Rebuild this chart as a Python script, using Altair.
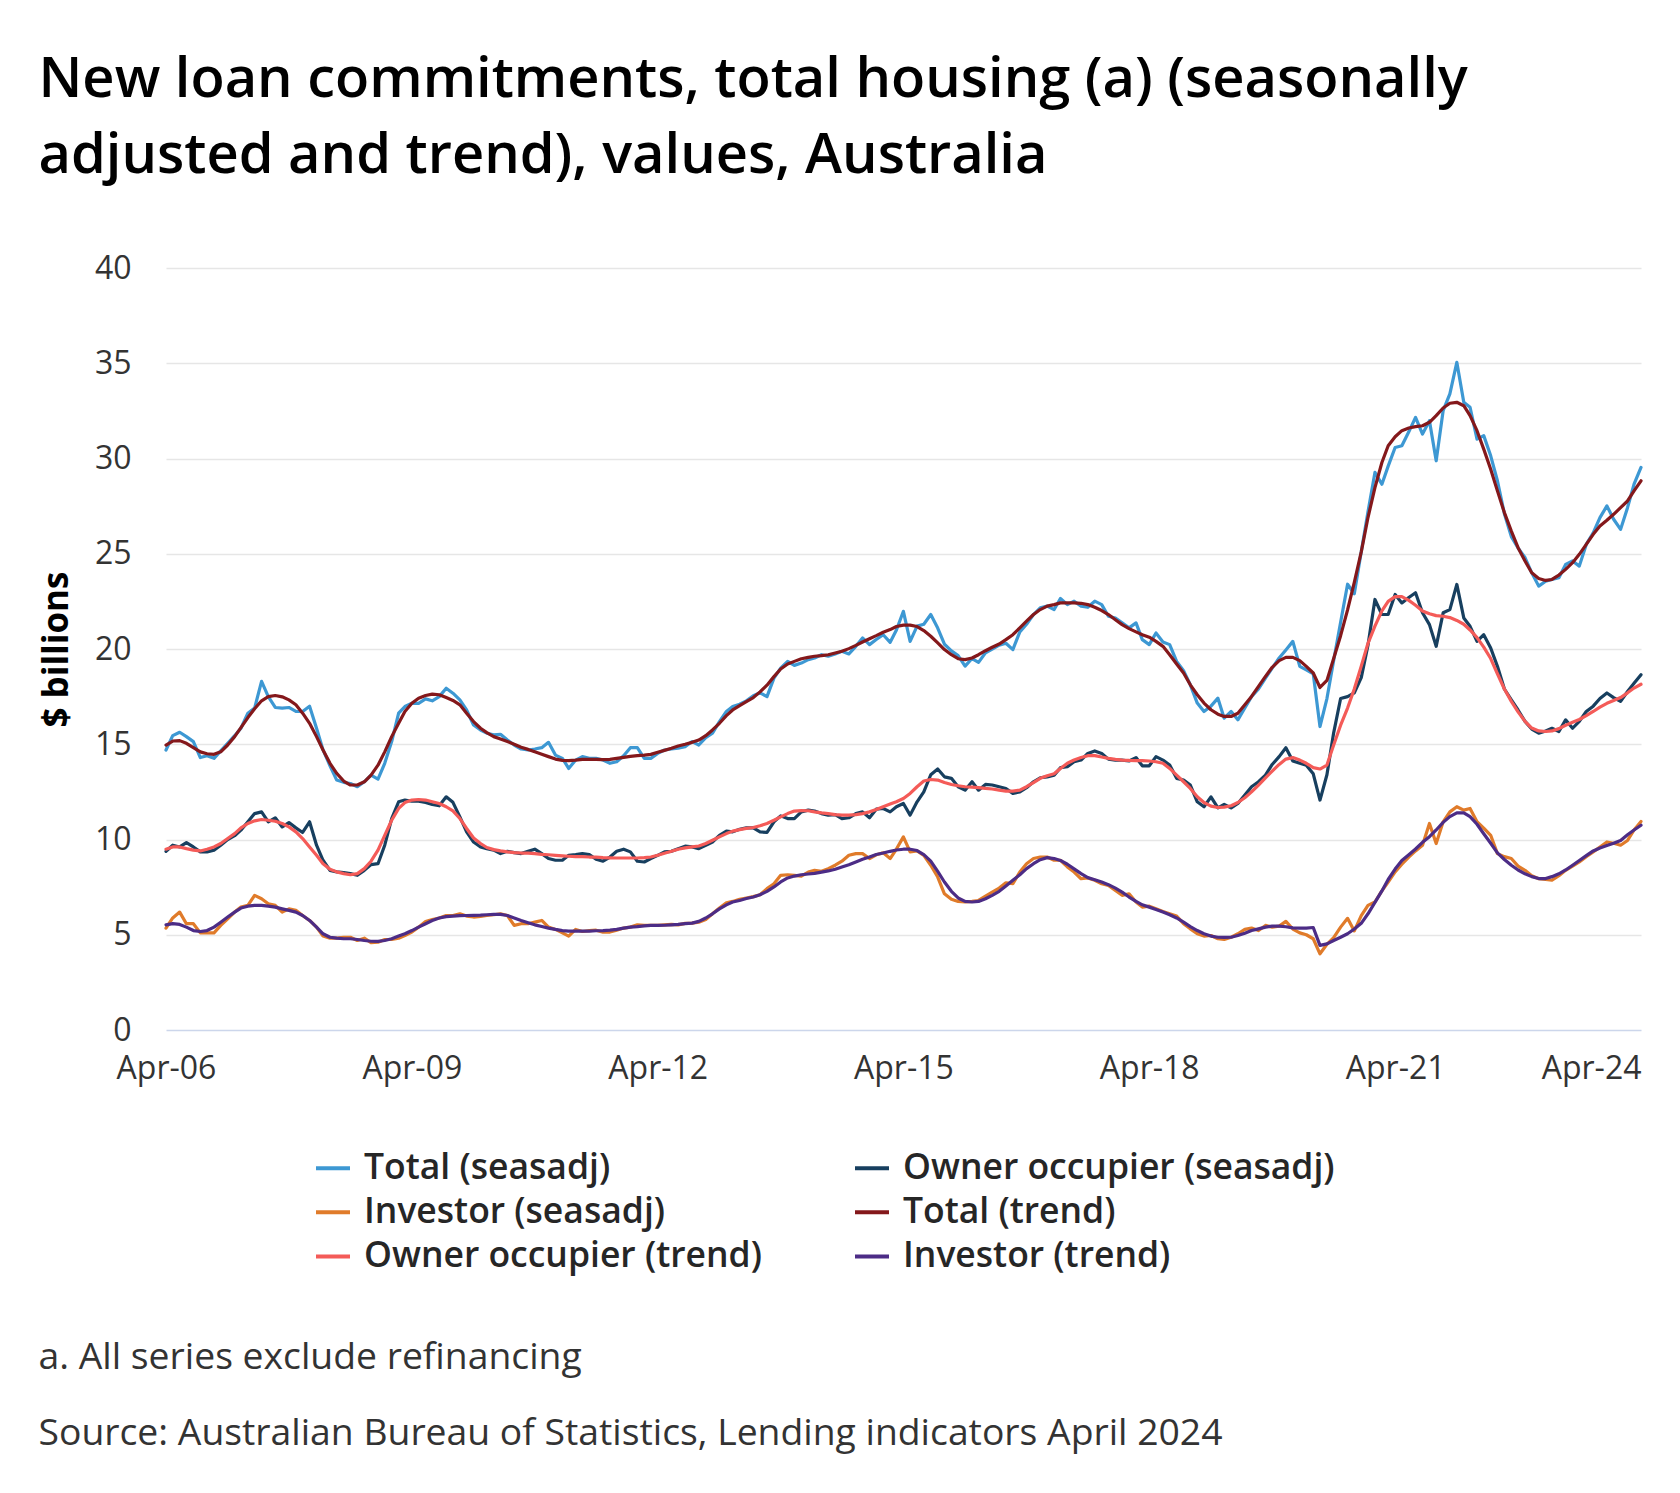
import altair as alt
import pandas as pd

# Monthly observations, April 2006 to April 2024 ($ billions)
MONTHS = pd.date_range("2006-04-01", "2024-04-01", freq="MS")

TOTAL_SEASADJ = [
    14.7, 15.45, 15.63, 15.4, 15.14, 14.3, 14.4, 14.26, 14.65, 15.05, 15.45, 15.84,
    16.63, 16.9, 18.3, 17.5, 16.93, 16.9, 16.93, 16.72, 16.72, 17.0, 15.84, 14.7,
    13.87, 13.12, 13.0, 12.94, 12.77, 13.03, 13.38, 13.17, 14.0, 15.14, 16.63, 16.98,
    17.15, 17.15, 17.38, 17.28, 17.5, 17.94, 17.68, 17.33, 16.8, 16.01, 15.75, 15.58,
    15.49, 15.52, 15.22, 14.96, 14.75, 14.7, 14.75, 14.82, 15.1, 14.43, 14.26, 13.73,
    14.17, 14.35, 14.26, 14.26, 14.17, 14.0, 14.08, 14.4, 14.82, 14.82, 14.26, 14.26,
    14.52, 14.7, 14.75, 14.79, 14.87, 15.14, 14.96, 15.35, 15.58, 16.19, 16.72, 16.98,
    17.1, 17.28, 17.55, 17.7, 17.5, 18.47, 19.0, 19.35, 19.14, 19.26, 19.44, 19.53,
    19.7, 19.62, 19.74, 19.88, 19.74, 20.14, 20.58, 20.23, 20.5, 20.75, 20.35, 21.0,
    21.98, 20.4, 21.2, 21.3, 21.81, 21.1, 20.25, 19.9, 19.65, 19.1, 19.5, 19.3,
    19.8, 20.0, 20.2, 20.3, 19.97, 20.9, 21.3, 21.81, 22.16, 22.25, 22.07, 22.65,
    22.33, 22.51, 22.25, 22.19, 22.51, 22.33, 21.72, 21.63, 21.37, 21.11, 21.37, 20.49,
    20.23, 20.84, 20.37, 20.23, 19.35, 18.86, 18.12, 17.16, 16.72, 17.0, 17.42, 16.37,
    16.72, 16.28, 16.9, 17.5, 17.9, 18.47, 19.0, 19.53, 19.95, 20.4, 19.09, 18.9,
    18.7, 15.93, 17.4, 19.4, 21.4, 23.4, 22.9, 25.1, 27.2, 29.27, 28.65, 29.6,
    30.58, 30.67, 31.4, 32.16, 31.28, 31.98, 29.88, 32.51, 33.39, 35.05, 32.95, 32.69,
    31.02, 31.2, 30.14, 28.83, 27.1, 25.9, 25.3, 24.8, 24.0, 23.3, 23.56, 23.65,
    23.74, 24.44, 24.62, 24.35, 25.49, 26.1, 26.9, 27.51, 26.81, 26.28, 27.42, 28.65,
    29.53,
]

OWNER_SEASADJ = [
    9.38, 9.7, 9.61, 9.84, 9.61, 9.35, 9.35, 9.44, 9.7, 10.0, 10.2, 10.49,
    10.93, 11.36, 11.45, 10.93, 11.14, 10.66, 10.89, 10.61, 10.37, 10.93, 9.7, 8.91,
    8.38, 8.3, 8.26, 8.21, 8.12, 8.38, 8.68, 8.73, 9.7, 11.1, 11.98, 12.07,
    12.01, 12.01, 11.94, 11.84, 11.77, 12.24, 11.95, 11.19, 10.4, 9.87, 9.61, 9.52,
    9.44, 9.26, 9.38, 9.31, 9.26, 9.38, 9.49, 9.26, 9.0, 8.91, 8.91, 9.17,
    9.21, 9.26, 9.21, 8.96, 8.86, 9.08, 9.38, 9.49, 9.35, 8.86, 8.82, 9.0,
    9.17, 9.35, 9.38, 9.52, 9.65, 9.61, 9.52, 9.7, 9.87, 10.22, 10.44, 10.4,
    10.54, 10.61, 10.61, 10.4, 10.37, 10.93, 11.24, 11.1, 11.1, 11.45, 11.54, 11.49,
    11.36, 11.28, 11.31, 11.1, 11.14, 11.36, 11.45, 11.14, 11.59, 11.63, 11.45, 11.72,
    11.89, 11.28, 11.98, 12.5, 13.4, 13.7, 13.29, 13.21, 12.77, 12.59, 13.03, 12.59,
    12.89, 12.86, 12.77, 12.68, 12.42, 12.5, 12.72, 13.03, 13.24, 13.29, 13.38, 13.77,
    13.82, 14.08, 14.17, 14.52, 14.65, 14.52, 14.22, 14.17, 14.17, 14.12, 14.3, 13.87,
    13.87, 14.35, 14.17, 13.91, 13.21, 13.12, 12.86, 11.98, 11.72, 12.24, 11.66, 11.84,
    11.66, 11.89, 12.33, 12.77, 13.03, 13.38, 13.94, 14.35, 14.82, 14.12, 14.0, 13.9,
    13.45, 12.07, 13.4, 15.6, 17.4, 17.5, 17.7, 18.5, 20.2, 22.6, 21.81, 21.81,
    22.86, 22.42, 22.7, 22.95, 21.9, 21.28, 20.14, 21.9, 22.07, 23.39, 21.63, 21.19,
    20.4, 20.75, 20.05, 19.09, 17.9, 17.33, 16.8, 16.2, 15.8, 15.58, 15.7, 15.84,
    15.67, 16.28, 15.84, 16.2, 16.72, 17.0, 17.4, 17.69, 17.45, 17.25, 17.77, 18.2,
    18.65,
]

INVESTOR_SEASADJ = [
    5.35, 5.88, 6.19, 5.58, 5.58, 5.1, 5.1, 5.1, 5.49, 5.84, 6.19, 6.45,
    6.54, 7.07, 6.89, 6.63, 6.54, 6.19, 6.36, 6.28, 6.01, 5.75, 5.4, 4.93,
    4.82, 4.82, 4.87, 4.87, 4.7, 4.82, 4.58, 4.61, 4.75, 4.75, 4.82, 4.96,
    5.14, 5.4, 5.7, 5.8, 5.88, 6.01, 6.01, 6.1, 5.98, 5.93, 5.96, 6.01,
    6.05, 6.1, 6.01, 5.49, 5.58, 5.58, 5.66, 5.75, 5.4, 5.28, 5.1, 4.93,
    5.28, 5.17, 5.22, 5.24, 5.14, 5.14, 5.24, 5.35, 5.4, 5.52, 5.49, 5.5,
    5.5, 5.52, 5.54, 5.52, 5.6, 5.61, 5.66, 5.8, 6.1, 6.4, 6.68, 6.75,
    6.86, 6.93, 7.0, 7.1, 7.42, 7.68, 8.12, 8.15, 8.12, 8.08, 8.29, 8.38,
    8.33, 8.47, 8.65, 8.86, 9.17, 9.26, 9.26, 9.0, 9.2, 9.3, 9.0, 9.5,
    10.14, 9.35, 9.4, 9.17, 8.65, 8.03, 7.15, 6.86, 6.75, 6.72, 6.75, 6.8,
    7.03, 7.24, 7.45, 7.73, 7.68, 8.29, 8.73, 9.0, 9.08, 9.08, 8.91, 8.91,
    8.56, 8.29, 7.94, 7.98, 7.86, 7.68, 7.59, 7.33, 7.07, 7.15, 6.72, 6.45,
    6.5, 6.36, 6.22, 6.1, 5.98, 5.58, 5.31, 5.05, 4.93, 4.96, 4.79, 4.75,
    4.87, 5.05, 5.28, 5.35, 5.22, 5.49, 5.4, 5.45, 5.7, 5.3, 5.1, 5.0,
    4.79, 4.0, 4.5, 4.85, 5.4, 5.86, 5.2, 6.0, 6.54, 6.72, 7.3, 7.77,
    8.3, 8.7, 9.08, 9.4, 9.7, 10.84, 9.79, 10.93, 11.45, 11.72, 11.54, 11.63,
    10.93, 10.6, 10.22, 9.26, 9.1, 9.0, 8.6, 8.38, 8.1, 7.94, 7.9, 7.86,
    8.1, 8.38, 8.6, 8.82, 9.1, 9.35, 9.6, 9.87, 9.8, 9.7, 9.95, 10.5,
    10.95,
]

TOTAL_TREND = [
    14.96, 15.17, 15.19, 15.05, 14.82, 14.6, 14.5, 14.47, 14.6, 14.96, 15.4, 15.87,
    16.4, 16.86, 17.28, 17.5, 17.56, 17.49, 17.33, 17.07, 16.63, 16.1, 15.4, 14.7,
    14.0, 13.47, 13.07, 12.86, 12.86, 13.03, 13.38, 13.9, 14.6, 15.4, 16.1, 16.72,
    17.15, 17.42, 17.56, 17.63, 17.6, 17.45, 17.3, 17.07, 16.63, 16.19, 15.84, 15.61,
    15.4, 15.28, 15.14, 15.0, 14.84, 14.73, 14.6, 14.47, 14.35, 14.22, 14.15, 14.14,
    14.17, 14.21, 14.21, 14.21, 14.19, 14.21, 14.26, 14.31, 14.36, 14.4, 14.43, 14.47,
    14.58, 14.68, 14.79, 14.91, 15.0, 15.1, 15.22, 15.45, 15.75, 16.1, 16.5, 16.8,
    17.03, 17.24, 17.45, 17.75, 18.1, 18.55, 18.95, 19.21, 19.35, 19.49, 19.56, 19.62,
    19.65, 19.7, 19.79, 19.88, 20.02, 20.19, 20.37, 20.54, 20.7, 20.88, 21.02, 21.18,
    21.25, 21.25, 21.18, 20.97, 20.67, 20.32, 19.97, 19.7, 19.49, 19.44, 19.53, 19.7,
    19.91, 20.09, 20.26, 20.49, 20.75, 21.11, 21.46, 21.81, 22.07, 22.25, 22.33, 22.42,
    22.42, 22.42, 22.4, 22.33, 22.19, 22.02, 21.81, 21.54, 21.28, 21.07, 20.9, 20.75,
    20.62, 20.4, 20.14, 19.7, 19.21, 18.74, 18.12, 17.6, 17.16, 16.81, 16.58, 16.46,
    16.46, 16.63, 17.07, 17.51, 18.04, 18.56, 19.04, 19.39, 19.56, 19.56, 19.39, 19.09,
    18.74, 17.98, 18.35, 19.5, 20.7, 22.05, 23.5, 25.1, 26.9, 28.47, 29.79, 30.67,
    31.14, 31.46, 31.6, 31.67, 31.72, 31.9, 32.25, 32.65, 32.9, 32.95, 32.77, 32.25,
    31.46, 30.49, 29.44, 28.3, 27.16, 26.19, 25.32, 24.62, 24.0, 23.7, 23.6, 23.65,
    23.88, 24.18, 24.53, 24.97, 25.49, 26.02, 26.46, 26.76, 27.07, 27.42, 27.77, 28.3,
    28.83,
]

OWNER_TREND = [
    9.49, 9.61, 9.61, 9.52, 9.44, 9.4, 9.49, 9.61, 9.79, 10.05, 10.31, 10.61,
    10.84, 10.98, 11.05, 11.01, 10.96, 10.84, 10.66, 10.4, 10.05, 9.61, 9.17, 8.73,
    8.44, 8.3, 8.21, 8.15, 8.21, 8.47, 8.86, 9.44, 10.22, 11.01, 11.63, 11.94,
    12.07, 12.1, 12.07, 11.98, 11.89, 11.72, 11.5, 11.1, 10.58, 10.08, 9.79, 9.58,
    9.47, 9.4, 9.35, 9.31, 9.29, 9.28, 9.26, 9.22, 9.2, 9.17, 9.14, 9.12,
    9.1, 9.1, 9.08, 9.07, 9.05, 9.04, 9.03, 9.03, 9.03, 9.03, 9.05, 9.08,
    9.17, 9.28, 9.38, 9.49, 9.56, 9.61, 9.66, 9.79, 9.96, 10.14, 10.31, 10.44,
    10.52, 10.58, 10.63, 10.72, 10.84, 11.01, 11.19, 11.36, 11.49, 11.52, 11.51, 11.45,
    11.4, 11.36, 11.31, 11.28, 11.28, 11.31, 11.36, 11.45, 11.57, 11.72, 11.86, 11.98,
    12.15, 12.42, 12.77, 13.07, 13.15, 13.12, 12.99, 12.89, 12.82, 12.77, 12.75, 12.72,
    12.68, 12.65, 12.59, 12.54, 12.54, 12.59, 12.77, 12.99, 13.21, 13.35, 13.45, 13.73,
    14.0, 14.17, 14.3, 14.4, 14.4, 14.33, 14.26, 14.21, 14.17, 14.15, 14.14, 14.14,
    14.12, 14.08, 14.0, 13.73, 13.38, 13.03, 12.68, 12.24, 11.94, 11.75, 11.68, 11.7,
    11.77, 11.94, 12.19, 12.5, 12.86, 13.24, 13.59, 13.94, 14.22, 14.3, 14.17, 14.0,
    13.77, 13.7, 13.91, 14.96, 16.0, 16.9, 17.9, 19.1, 20.3, 21.2, 22.0, 22.5,
    22.75, 22.75, 22.55, 22.3, 22.0, 21.85, 21.75, 21.72, 21.65, 21.5, 21.3, 21.0,
    20.6, 20.1, 19.5, 18.7, 17.9, 17.25, 16.7, 16.2, 15.85, 15.7, 15.67, 15.7,
    15.82, 16.0, 16.15, 16.3, 16.5, 16.72, 16.95, 17.15, 17.3, 17.45, 17.7, 17.95,
    18.15,
]

INVESTOR_TREND = [
    5.52, 5.58, 5.54, 5.4, 5.22, 5.17, 5.22, 5.4, 5.66, 5.93, 6.19, 6.4,
    6.5, 6.54, 6.54, 6.5, 6.45, 6.36, 6.28, 6.19, 6.01, 5.75, 5.4, 5.05,
    4.87, 4.82, 4.79, 4.79, 4.75, 4.7, 4.66, 4.65, 4.7, 4.79, 4.93, 5.05,
    5.22, 5.4, 5.58, 5.75, 5.88, 5.95, 5.98, 6.0, 6.01, 6.02, 6.03, 6.05,
    6.07, 6.07, 6.01, 5.88, 5.75, 5.63, 5.52, 5.43, 5.35, 5.28, 5.22, 5.19,
    5.19, 5.19, 5.19, 5.21, 5.22, 5.24, 5.28, 5.35, 5.4, 5.43, 5.47, 5.49,
    5.49, 5.5, 5.52, 5.54, 5.58, 5.61, 5.7, 5.88, 6.1, 6.36, 6.57, 6.72,
    6.8, 6.9, 6.98, 7.1, 7.28, 7.51, 7.77, 7.98, 8.08, 8.15, 8.19, 8.22,
    8.29, 8.35, 8.44, 8.56, 8.68, 8.82, 8.96, 9.08, 9.21, 9.29, 9.38, 9.45,
    9.49, 9.49, 9.42, 9.21, 8.86, 8.33, 7.77, 7.28, 6.93, 6.75, 6.72, 6.75,
    6.89, 7.07, 7.28, 7.56, 7.86, 8.15, 8.47, 8.73, 8.94, 9.05, 9.0, 8.9,
    8.7, 8.46, 8.21, 8.0, 7.89, 7.77, 7.63, 7.45, 7.24, 6.98, 6.75, 6.57,
    6.45, 6.33, 6.19, 6.05, 5.88, 5.66, 5.43, 5.22, 5.05, 4.93, 4.87, 4.86,
    4.87, 4.96, 5.08, 5.22, 5.31, 5.4, 5.45, 5.45, 5.42, 5.36, 5.35, 5.35,
    5.38, 4.44, 4.52, 4.7, 4.87, 5.05, 5.3, 5.6, 6.1, 6.7, 7.3, 7.9,
    8.45, 8.9, 9.2, 9.5, 9.85, 10.15, 10.5, 10.9, 11.2, 11.4, 11.4, 11.2,
    10.8, 10.3, 9.8, 9.3, 8.95, 8.65, 8.4, 8.2, 8.05, 7.95, 7.95, 8.05,
    8.2, 8.4, 8.65, 8.9, 9.15, 9.4, 9.55, 9.68, 9.8, 9.95, 10.25, 10.5,
    10.75,
]

# Series in drawing order (trend lines are drawn over the seasonally adjusted ones)
SERIES = [
    "Total (seasadj)", "Owner occupier (seasadj)", "Investor (seasadj)",
    "Total (trend)", "Owner occupier (trend)", "Investor (trend)",
]
VALUES = [TOTAL_SEASADJ, OWNER_SEASADJ, INVESTOR_SEASADJ,
          TOTAL_TREND, OWNER_TREND, INVESTOR_TREND]
COLOURS = ["#3d98d3", "#173f5f", "#e07b2a", "#84181b", "#f45b58", "#4c2c86"]

# The two-column legend fills column by column, so list the entries that way
LEGEND_ORDER = [0, 2, 4, 1, 3, 5]

TITLE_LINES = [
    "New loan commitments, total housing (a) (seasonally",
    "adjusted and trend), values, Australia",
]
FOOTNOTE = "a. All series exclude refinancing"
SOURCE = "Source: Australian Bureau of Statistics, Lending indicators April 2024"
X_TICK_YEARS = [2006, 2009, 2012, 2015, 2018, 2021, 2024]
Y_TICKS = [0, 5, 10, 15, 20, 25, 30, 35, 40]
Y_TITLE = "$ billions"

frames = []
for name, vals in zip(SERIES, VALUES):
    assert len(vals) == len(MONTHS), (name, len(vals))
    frames.append(pd.DataFrame({"month": MONTHS, "series": name, "value": vals}))
data = pd.concat(frames, ignore_index=True)

FONT = "Open Sans"
PLOT_W, PLOT_H = 1475, 762

x_enc = alt.X(
    "month:T",
    scale=alt.Scale(domain=[alt.DateTime(year=2006, month=4, date=1),
                            alt.DateTime(year=2024, month=4, date=1)]),
    axis=alt.Axis(
        values=[alt.DateTime(year=y, month=4, date=1) for y in X_TICK_YEARS],
        format="%b-%y", title=None, grid=False, ticks=False,
        domainColor="#ccd6eb", domainWidth=1.5,
        labelFont=FONT, labelFontSize=32, labelColor="#333333",
        labelPadding=23, labelFlush=False, labelOverlap=False,
        labelAlign={"condition": {"test": "datum.value > 1690000000000", "value": "right"},
                    "value": "center"},
    ),
)
y_enc = alt.Y(
    "value:Q",
    scale=alt.Scale(domain=[0, 40], nice=False, zero=True),
    axis=alt.Axis(
        values=Y_TICKS, title=Y_TITLE, domain=False, ticks=False,
        gridColor={"condition": {"test": "datum.value === 0", "value": "transparent"},
                   "value": "#e6e6e6"},
        gridWidth=1.5,
        labelFont=FONT, labelFontSize=32, labelColor="#333333", labelPadding=35,
        titleFont=FONT, titleFontSize=35, titleFontWeight="bold", titleColor="#000000",
        titleAngle=270, titleX=-110, titleY=PLOT_H / 2,
        titleAlign="center", titleBaseline="middle",
    ),
)
colour_enc = alt.Color(
    "series:N",
    scale=alt.Scale(domain=[SERIES[i] for i in LEGEND_ORDER],
                    range=[COLOURS[i] for i in LEGEND_ORDER]),
    legend=alt.Legend(
        title=None, orient="none", legendX=148, legendY=881, columns=2,
        symbolType="stroke", symbolSize=1156, symbolStrokeWidth=4,
        labelFont=FONT, labelFontSize=35.5, labelFontWeight=600,
        labelColor="#262626", labelOffset=12, labelLimit=1000,
        columnPadding=85, rowPadding=6.2,
    ),
)

line_layers = [
    alt.Chart(data[data["series"] == name])
    .mark_line(strokeWidth=3.2, strokeJoin="round", strokeCap="round")
    .encode(x=x_enc, y=y_enc, color=colour_enc)
    for name in SERIES
]


def text_layer(text, x, y, size, weight, colour):
    return (
        alt.Chart(pd.DataFrame({"label": [text]}))
        .mark_text(align="left", baseline="alphabetic", font=FONT,
                   fontSize=size, fontWeight=weight, color=colour)
        .encode(x=alt.value(x), y=alt.value(y), text="label:N")
    )


text_layers = [
    text_layer(TITLE_LINES[0], -127.5, -171.5, 56, 600, "#000000"),
    text_layer(TITLE_LINES[1], -127.5, -95, 56, 600, "#000000"),
    text_layer(FOOTNOTE, -127.5, 1101, 37.3, "normal", "#333333"),
    text_layer(SOURCE, -127.5, 1177, 37.3, "normal", "#333333"),
]

chart = (
    alt.layer(*line_layers, *text_layers)
    .properties(
        width=PLOT_W, height=PLOT_H,
        padding={"left": 166, "top": 268, "right": 39, "bottom": 463},
        autosize=alt.AutoSizeParams(type="none"),
        background="white",
    )
    .configure_view(stroke=None)
)

chart.save("out.html", embed_options={"renderer": "svg", "actions": False})
